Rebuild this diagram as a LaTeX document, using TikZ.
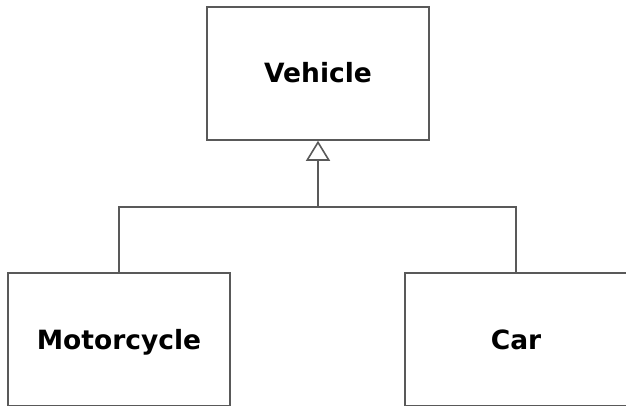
\documentclass[tikz,border=0pt]{standalone}
\usepackage{fontspec}
\setmainfont{DejaVu Sans}
\usetikzlibrary{arrows.meta}

\begin{document}
\begin{tikzpicture}[x=1pt, y=-1pt, line width=1.6pt]
			\useasboundingbox (0,0) rectangle (626,406);
			\tikzstyle{every node}=[draw=black!65, fill=white, rectangle, align=center, inner sep=0pt,
				minimum width=222pt, minimum height=133pt, text height=19pt, text depth=0pt,
				font=\fontsize{26.5}{30}\selectfont\bfseries]
			\node (vehicle) at (318, 73.5) {Vehicle};
			\node (motorcycle) at (119, 339.5) {Motorcycle};
			\node (car) at (516, 339.5) {Car};

			\coordinate (joint) at (318, 207);
			\draw[black!65] (motorcycle.north) |- (joint) -| (car.north);
			\draw[black!65, -{Triangle[open, length=20pt, width=24pt, line width=1.6pt]}] (joint) -- (vehicle.south);
		\end{tikzpicture}
\end{document}
